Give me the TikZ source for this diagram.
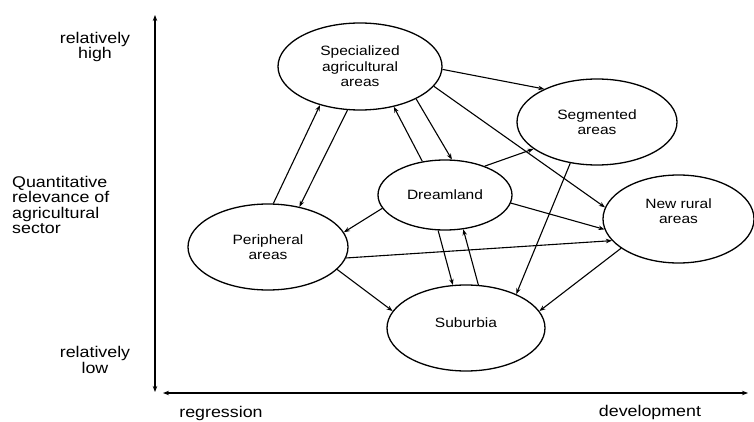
\documentclass[tikz,border=0pt]{standalone}
\usepackage{fontspec}
\setmainfont{Liberation Sans}
\newfontfamily\lbl[FakeStretch=1.15]{Liberation Sans}
\usetikzlibrary{arrows.meta,shapes.geometric}
\begin{document}
\begin{tikzpicture}[x=1pt,y=1pt,
  area/.style={ellipse, draw, line width=1.3pt, inner sep=0pt, align=center,
    font=\lbl\fontsize{13.5}{15.5}\selectfont},
  conn/.style={line width=1.1pt, -{Stealth[length=6pt,width=4.5pt]}},
  axis/.style={line width=1.5pt, {Stealth[length=6pt,width=4.5pt]}-{Stealth[length=6pt,width=4.5pt]}},
  axlabel/.style={font=\lbl\fontsize{15.5}{15.5}\selectfont, align=center, inner sep=0pt}]
\useasboundingbox (0,0) rectangle (754,-422);

% areas
\node[area, minimum width=164, minimum height=87] (spec) at (360,-66.5) {Specialized\\agricultural\\areas};
\node[area, minimum width=160, minimum height=86] (seg) at (597,-122) {Segmented\\areas};
\node[area, minimum width=134, minimum height=70] (dream) at (445,-195) {Dreamland};
\node[area, minimum width=151, minimum height=88, text depth=16pt] (newr) at (678.5,-219) {New rural\\areas};
\node[area, minimum width=160, minimum height=86] (peri) at (268,-247) {Peripheral\\areas};
\node[area, minimum width=158, minimum height=86, text depth=10pt] (sub) at (466,-328) {Suburbia};

% connectors
\draw[conn] (peri.83.7) -- (spec.224.3);
\draw[conn] (spec.254.2) -- (peri.52.9);
\draw[conn] (dream.124.4) -- (spec.310.5);
\draw[conn] (spec.330.5) -- (dream.79.3);
\draw[conn] (spec.358.6) -- (seg.148.4);
\draw[conn] (spec.345.4) -- (newr.171);
\draw[conn] (dream.36.9) -- (seg.203.4);
\draw[conn] (dream.353.2) -- (newr.188.2);
\draw[conn] (peri.352.6) -- (newr.198.4);
\draw[conn] (seg.237.9) -- (sub.34.7);
\draw[conn] (newr.207) -- (sub.13.3);
\draw[conn] (dream.259.3) -- (sub.107.3);
\draw[conn] (sub.74.4) -- (dream.298.4);
\draw[conn] (dream.192.6) -- (peri.11.5);
\draw[conn] (peri.342.6) -- (sub.167.8);

% axes
\coordinate (vtop) at (155,-15);
\coordinate (vbot) at (155,-392);
\coordinate (hl) at (163,-393);
\coordinate (hr) at (748,-393);
\draw[axis] (vbot) -- (vtop);
\draw[axis] (hl) -- (hr);

% axis labels
\node[axlabel] (high) at (95,-47) {relatively\\high};
\node[axlabel, align=left, anchor=west] (qrel) at (12,-205) {Quantitative\\relevance of\\agricultural\\sector};
\node[axlabel] (low) at (95,-360) {relatively\\low};
\node[axlabel] (regr) at (221,-413) {regression};
\node[axlabel] (dev) at (650,-412) {development};
\end{tikzpicture}
\end{document}
